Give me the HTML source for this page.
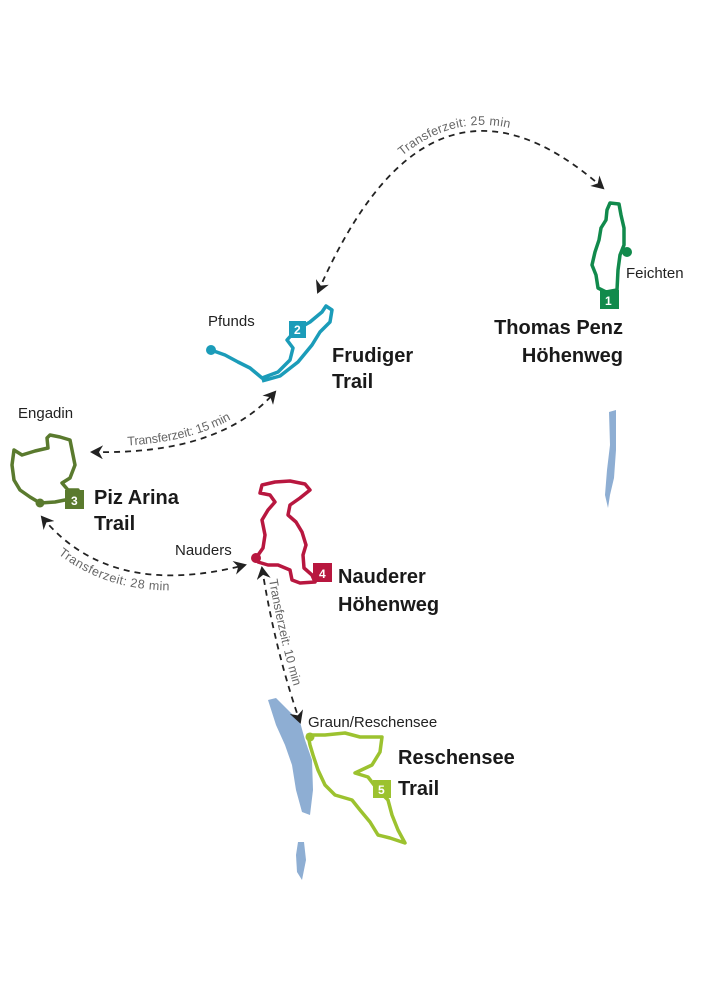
<!DOCTYPE html>
<html><head><meta charset="utf-8"><style>
html,body{margin:0;padding:0;background:#fff}
svg{display:block}
.l{font-family:"Liberation Sans",sans-serif;font-size:15px;fill:#222}
.b{font-family:"Liberation Sans",sans-serif;font-size:20px;font-weight:bold;fill:#1a1a1a}
.t{font-family:"Liberation Sans",sans-serif;font-size:12.5px;fill:#666}
.n{font-family:"Liberation Sans",sans-serif;font-size:12px;font-weight:bold;fill:#fff}
.d{fill:none;stroke:#222;stroke-width:1.8;stroke-dasharray:6 5}
</style></head><body>
<svg width="707" height="1000" viewBox="0 0 707 1000">
<defs>
<marker id="a" markerWidth="14" markerHeight="14" refX="11" refY="7" orient="auto-start-reverse" markerUnits="userSpaceOnUse">
<path d="M0,0 L13,7 L0,14 L4,7Z" fill="#222"/></marker>
<path id="p25" d="M318,292 Q430,35 603,188"/>
<path id="p15" d="M92,452 Q220,455 275,392"/>
<path id="p28" d="M42,517 Q110,600 245,565"/>
<path id="p10" d="M262,568 Q275,650 300,722"/>
</defs>
<!-- lakes -->
<path d="M609,412 L616,410 L616,450 L614,478 L610,495 L608,508 L605,495 L607,470 L610,445Z" fill="#8eaed3"/>
<path d="M268,700 L276,698 L290,712 L300,722 L305,740 L312,760 L313,790 L310,815 L302,812 L296,790 L292,765 L285,745 L276,725Z" fill="#8eaed3"/>
<path d="M298,842 L304,842 L306,860 L302,880 L297,872 L296,855Z" fill="#8eaed3"/>
<!-- connectors -->
<use href="#p25" class="d" marker-start="url(#a)" marker-end="url(#a)"/>
<use href="#p15" class="d" marker-start="url(#a)" marker-end="url(#a)"/>
<use href="#p28" class="d" marker-start="url(#a)" marker-end="url(#a)"/>
<use href="#p10" class="d" marker-start="url(#a)" marker-end="url(#a)"/>
<text class="t" dy="-6"><textPath href="#p25" startOffset="42%">Transferzeit: 25 min</textPath></text>
<text class="t" dy="-6"><textPath href="#p15" startOffset="18%">Transferzeit: 15 min</textPath></text>
<text class="t" dy="15"><textPath href="#p28" startOffset="16%">Transferzeit: 28 min</textPath></text>
<text class="t" dy="-5"><textPath href="#p10" startOffset="8%">Transferzeit: 10 min</textPath></text>
<!-- trail 1 -->
<path d="M610,203 L619,204 L621,215 L624,228 L624,245 L620,255 L618,270 L617,290 L606,292 L598,288 L596,275 L592,265 L595,252 L599,240 L601,228 L606,220 L607,210Z" fill="none" stroke="#118a4c" stroke-width="3.5" stroke-linejoin="round"/>
<circle cx="627" cy="252" r="5" fill="#118a4c"/>
<rect x="600" y="290" width="19" height="19" fill="#118a4c"/><text class="n" x="605" y="305">1</text>
<text class="l" x="626" y="278">Feichten</text>
<text class="b" x="623" y="334" text-anchor="end">Thomas Penz</text>
<text class="b" x="623" y="362" text-anchor="end">Höhenweg</text>
<!-- trail 2 -->
<path d="M211,350 L225,355 L238,362 L250,368 L262,378 L278,372 L290,360 L293,348 L287,340 L296,330 L310,322 L322,312 L326,306 L332,310 L330,322 L320,332 L312,345 L298,362 L280,376 L262,381" fill="none" stroke="#1b9cb9" stroke-width="3.5" stroke-linejoin="round"/>
<circle cx="211" cy="350" r="5" fill="#1b9cb9"/>
<rect x="289" y="321" width="17" height="17" fill="#1b9cb9"/><text class="n" x="294" y="334">2</text>
<text class="l" x="208" y="326">Pfunds</text>
<text class="b" x="332" y="362">Frudiger</text>
<text class="b" x="332" y="388">Trail</text>
<!-- trail 3 -->
<path d="M14,450 L22,455 L35,451 L48,448 L47,438 L50,435 L60,437 L70,440 L72,450 L75,465 L70,478 L62,483 L68,490 L78,490 L78,500 L65,500 L55,502 L40,503 L30,497 L20,490 L14,480 L12,465Z" fill="none" stroke="#5a7a2e" stroke-width="3.5" stroke-linejoin="round"/>
<circle cx="40" cy="503" r="4.5" fill="#5a7a2e"/>
<rect x="65" y="490" width="19" height="19" fill="#5a7a2e"/><text class="n" x="71" y="505">3</text>
<text class="l" x="18" y="418">Engadin</text>
<text class="b" x="94" y="504">Piz Arina</text>
<text class="b" x="94" y="530">Trail</text>
<!-- trail 4 -->
<path d="M256,558 L263,548 L265,535 L262,520 L268,510 L275,502 L270,495 L260,493 L262,485 L275,482 L290,481 L305,484 L310,490 L300,498 L290,505 L288,515 L296,522 L302,532 L306,545 L303,555 L304,568 L312,575 L315,582 L300,583 L292,580 L290,570 L278,565 L268,565 L258,562Z" fill="none" stroke="#b8173f" stroke-width="3.5" stroke-linejoin="round"/>
<circle cx="256" cy="558" r="5" fill="#b8173f"/>
<rect x="313" y="563" width="19" height="19" fill="#b8173f"/><text class="n" x="319" y="578">4</text>
<text class="l" x="175" y="555">Nauders</text>
<text class="b" x="338" y="583">Nauderer</text>
<text class="b" x="338" y="611">Höhenweg</text>
<!-- trail 5 -->
<path d="M308,735 L325,735 L345,733 L360,737 L382,737 L380,752 L372,765 L355,773 L368,777 L378,790 L388,800 L392,815 L398,830 L405,843 L390,838 L378,835 L370,822 L360,810 L352,800 L335,795 L325,785 L318,770 L313,755 L310,745Z" fill="none" stroke="#9cc22f" stroke-width="3.5" stroke-linejoin="round"/>
<circle cx="310" cy="737" r="4.5" fill="#9cc22f"/>
<rect x="373" y="780" width="18" height="18" fill="#9cc22f"/><text class="n" x="378" y="794">5</text>
<text class="l" x="308" y="727">Graun/Reschensee</text>
<text class="b" x="398" y="764">Reschensee</text>
<text class="b" x="398" y="795">Trail</text>
</svg>
</body></html>
